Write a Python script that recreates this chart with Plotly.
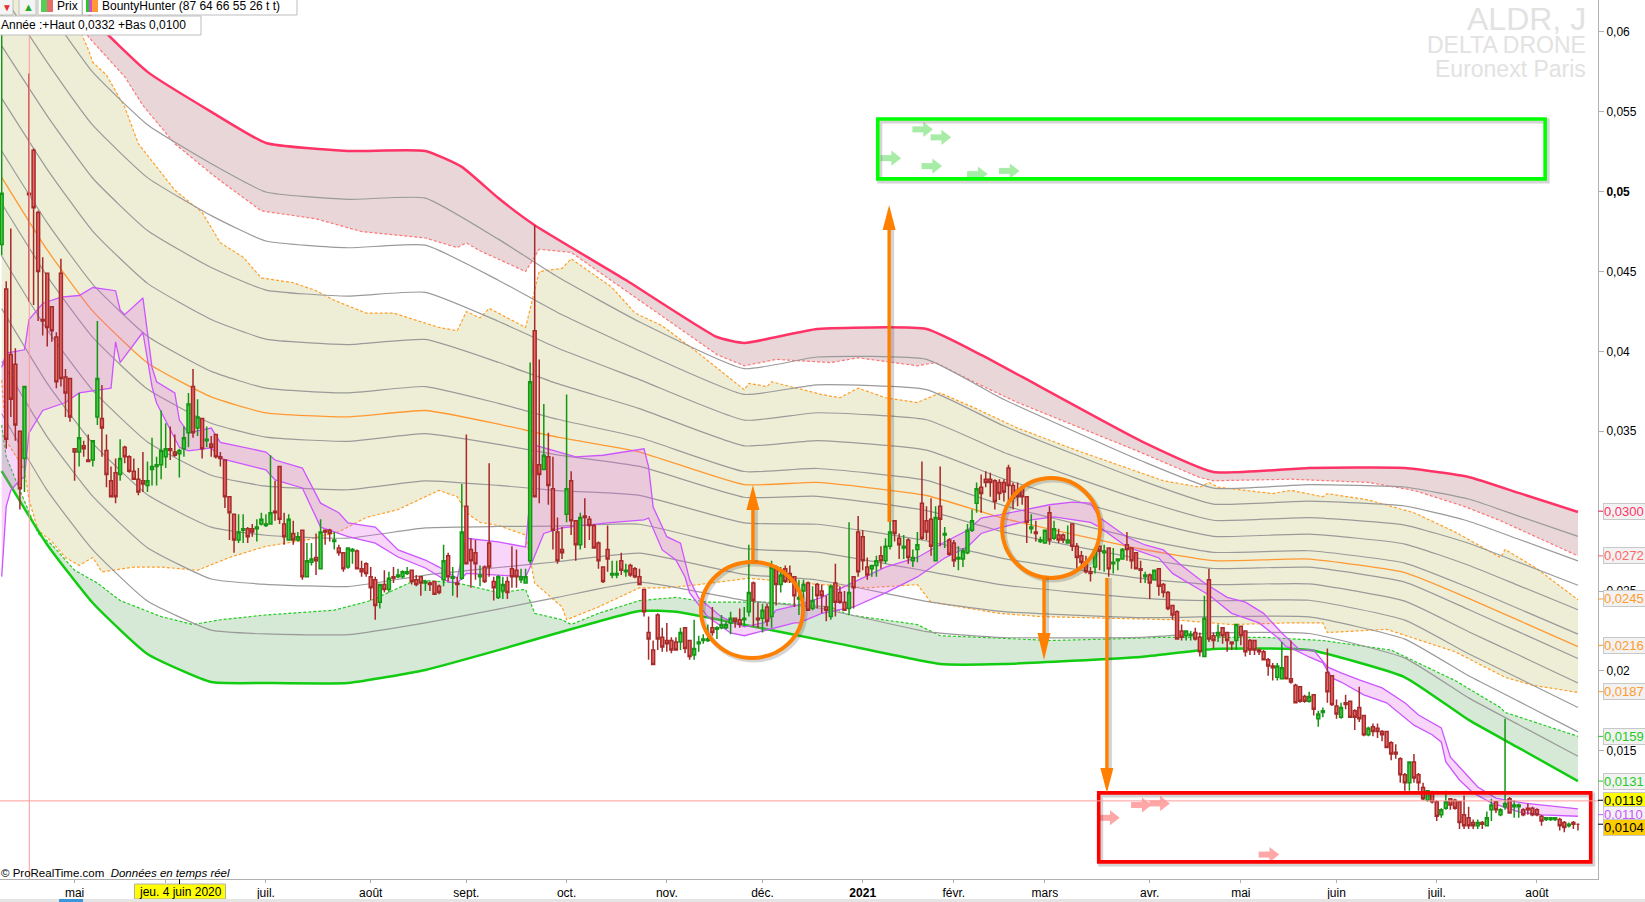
import plotly.graph_objects as go

SCALE = 1e-4  # all price lists below are in units of 0.0001

highs = [640,444,477,402,350,378,574,527,488,459,
449,428,412,458,389,383,339,374,344,348,
344,419,379,348,328,333,345,341,335,333,
327,337,331,346,334,363,355,353,348,339,
353,374,389,370,358,353,347,348,337,332,
309,298,298,298,290,292,295,299,298,335,
319,328,299,298,294,287,288,280,280,286,
295,288,289,287,279,274,277,277,276,269,
268,265,259,254,263,262,265,264,263,265,
263,260,259,257,256,256,254,279,274,265,
259,317,348,283,282,266,266,330,259,260,
259,259,278,276,264,264,393,479,395,367,
349,334,296,290,373,325,294,299,308,297,
292,281,265,291,269,269,274,267,267,265,
264,251,234,219,236,227,230,221,221,227,
227,219,232,222,223,229,240,228,235,231,
237,233,239,240,279,256,243,242,242,269,
266,265,266,266,259,257,257,256,253,255,
254,247,254,267,253,250,293,259,297,288,
271,266,272,278,283,317,294,286,285,283,
276,287,331,303,308,303,328,290,283,282,
278,277,292,301,318,323,325,324,320,320,
320,329,318,318,316,309,298,294,284,288,
303,294,289,286,291,292,280,275,272,265,
277,278,279,277,277,270,277,287,277,274,
269,262,261,263,264,255,250,241,238,229,
225,225,227,224,247,264,224,229,227,224,
218,229,228,225,220,219,214,213,208,205,
205,218,209,219,192,190,185,187,185,175,
177,214,197,182,180,185,181,176,190,172,
165,167,167,163,162,156,154,146,136,143,
148,136,130,125,125,119,114,125,120,120,
118,122,115,107,107,106,112,120,118,114,
170,121,119,117,114,117,115,114,110,108,
108,108,108,106,105,106,104]

opens = [467,439,398,392,350,333,499,526,487,420,
449,428,409,449,384,383,339,337,341,332,
332,359,358,338,319,324,323,340,334,325,
320,319,316,326,328,329,334,339,337,336,
339,349,378,352,358,344,342,348,334,332,
309,298,282,288,289,289,289,292,291,292,
300,328,292,282,286,282,288,259,268,271,
264,288,288,281,277,274,265,275,275,264,
267,259,257,243,254,251,259,259,259,261,
263,257,259,255,255,256,253,257,272,258,
255,258,303,276,274,259,265,280,256,246,
250,256,264,263,257,255,269,413,329,326,
334,314,287,276,298,319,294,279,297,295,
291,280,265,276,260,260,269,262,266,264,
259,251,224,213,235,221,219,219,218,218,
227,219,210,217,219,219,227,226,227,227,
230,233,232,232,237,255,233,233,240,234,
265,254,264,261,259,245,250,255,239,254,
250,240,234,255,249,243,239,259,287,284,
265,264,266,272,269,278,294,283,277,282,
269,276,305,294,295,269,303,285,282,280,
270,270,274,288,305,315,320,320,319,318,
318,327,316,313,315,309,289,287,281,280,
299,283,285,285,280,292,278,272,268,262,
265,278,274,277,267,269,270,279,277,274,
264,259,260,257,264,254,249,241,237,225,
222,222,224,221,209,257,222,222,227,224,
218,219,228,225,219,219,213,212,207,203,
196,195,209,195,191,190,184,181,185,170,
174,199,197,178,171,180,181,175,177,172,
160,165,164,162,162,155,149,145,135,130,
143,135,127,119,124,118,110,114,120,119,
118,110,108,105,103,105,103,113,118,110,
115,120,115,115,113,114,114,113,109,107,
107,107,107,105,103,105,104]

closes = [499,345,370,354,314,378,498,490,450,419,
415,413,381,383,374,359,337,346,339,331,
344,383,352,323,309,309,333,334,325,320,
312,317,319,328,329,338,339,338,335,338,
346,367,349,359,339,345,340,334,333,309,
299,282,287,289,284,287,290,295,292,299,
299,295,284,295,282,284,259,269,270,269,
287,287,286,282,274,264,277,276,264,262,
261,252,241,254,251,258,258,260,262,262,
256,254,255,256,254,248,249,269,259,259,
254,287,267,269,267,260,256,265,252,259,
254,249,259,259,259,259,381,309,323,335,
316,288,269,274,314,294,279,296,296,291,
277,269,256,270,261,261,263,263,260,259,
254,237,220,204,220,215,217,213,213,224,
214,209,214,218,220,220,224,227,229,229,
233,231,229,233,249,244,232,238,231,265,
254,260,256,257,247,246,254,238,244,247,
247,238,253,243,243,238,249,252,262,269,
260,266,269,269,278,287,286,279,278,271,
271,279,283,287,278,296,295,286,273,269,
271,275,288,294,314,311,318,318,306,311,
312,316,308,309,309,293,290,286,282,288,
282,289,282,282,282,278,271,268,262,261,
276,275,275,264,268,270,276,276,269,264,
263,260,255,263,253,249,239,235,220,221,
225,223,220,212,233,220,219,224,222,219,
217,229,222,212,213,213,212,207,203,202,
203,202,195,193,180,181,181,184,176,173,
175,187,179,173,177,179,171,171,170,160,
164,162,162,160,152,148,148,135,130,143,
133,130,120,125,118,109,113,118,116,114,
105,103,103,103,105,104,108,116,113,113,
117,111,116,116,110,113,110,110,106,108,
108,108,103,102,104,104,104]

lows = [460,339,359,344,301,312,431,429,419,410,
403,406,377,378,359,356,319,328,334,331,
328,354,334,315,309,305,319,330,324,320,
310,312,312,316,316,320,327,332,334,321,
334,340,346,347,333,340,334,333,328,302,
282,274,280,280,280,284,281,291,290,292,
294,292,279,282,279,281,257,259,266,260,
264,279,281,276,272,262,264,267,264,259,
259,244,232,239,249,249,255,258,258,260,
254,253,247,250,250,248,248,253,256,247,
246,257,267,252,257,253,255,259,244,245,
245,245,252,252,255,255,267,309,305,326,
304,276,267,270,293,285,269,276,277,282,
277,264,255,262,258,258,260,259,259,258,
254,234,207,204,213,212,212,211,213,213,
211,207,207,212,217,218,222,220,226,226,
223,227,227,228,234,228,227,224,228,227,
241,249,255,255,240,235,241,238,238,239,
236,231,232,234,242,238,235,239,259,263,
257,259,259,264,267,276,281,270,270,267,
265,268,282,282,272,269,278,277,272,265,
263,265,273,287,299,299,315,309,301,307,
306,305,301,303,304,280,286,281,280,280,
279,282,280,280,280,275,263,266,261,256,
261,263,262,259,261,263,270,269,264,264,
255,255,245,257,247,246,238,232,220,219,
219,219,219,209,209,218,214,218,217,212,
213,213,216,209,210,210,210,207,197,194,
194,195,195,192,180,180,180,180,172,165,
171,180,178,170,170,176,171,163,168,159,
159,159,158,156,152,144,145,130,125,125,
130,125,119,118,117,106,108,113,113,113,
101,101,101,101,101,101,103,106,111,109,
113,111,108,108,109,110,109,109,103,106,
106,106,100,99,102,101,100]

# Upper and lower bands
red_x = [0,10,20,32,46,58,76,93,101,109,117,137,157,163,179,203,215,224,250,266,287,308,322,333,346]
red_v = [690,648,608,575,550,530.5,525.5,525.5,515.5,496,479,444.7,409,405.3,414,414,397.8,384,344,324.5,327,327,321.4,311.4,299.5]
green_x = [0,10,20,32,46,58,76,93,109,122,140,148,160,184,206,220,250,266,287,308,322,333,346]
green_v = [325,279,242.5,210.6,193,192.4,192.4,200.6,213,223.7,237.5,237,230.6,216.9,204.3,204.3,208.7,213.7,213,196,169.3,151.8,131]

dash_red_x = [0,17,19,27,31,38,47,57,69,79,93,100,102,105,115,118,125,137,147,157,163,170,182,188,201,205,214,223,249,263,266,283,300,310,321,329,346]
dash_red_v = [690,609,597,572,554,530,509,488,483,475,471,465,468,463,450,464,462,438,418,398,391,395,393,396,391,393,380,368,338,321,319,320,318,313,303,294,272]

orange_up_x = [0,10,16,19,20,23,27,30,38,44,48,53,57,64,69,73,80,86,96,100,102,105,107,115,118,123,125,134,139,145,152,163,164,168,169,180,184,188,194,201,206,214,223,236,255,263,265,267,279,283,290,291,300,310,319,329,330,337,346]
orange_up_v = [700,650,609,589,581,573,553,530,501,487,468,459,446,443,438,432,424,424,415,413,425,421,427,415,450,452,458,440,424,416,401,376,380,378,381,373,371,377,371,368,374,364,352,338,319,315,318,315,311,313,309,311,307,299,287,271,276,264,244.5]
orange_low_x = [0,1,5,6,8,11,14,17,20,22,29,35,43,50,58,67,74,80,87,96,100,102,105,109,115,116,117,123,124,131,140,146,153,164,175,190,201,204,219,228,246,257,270,282,290,291,304,319,330,336,346]
orange_low_v = [382,344,326,307,288,281,271,266,271,262,265,265,263,271,278,282,287,296,301,313,309,299,293,291,285,271,255,240,232,240,252,252,254,258,255,252,254,243,236,234,233,232,229,230,230,224,226,212,196,191,186.5]
dash_green_x = [0,1,4,8,11,16,21,26,35,42,48,58,73,81,91,100,109,115,117,123,125,131,140,148,155,168,182,186,201,206,219,230,244,255,277,290,305,319,329,330,346]
dash_green_v = [354,334,313,286,279,263,255,244,234,229,232,235,238,244,257,255,249,251,236,232,229,236,244,246,243,243,240,235,229,222,220.5,219,220,221,221,219,213,194,177,174,159]

# Grey envelope levels and orange mid-line, sampled on the same bars
level_x = [0,10,20,32,46,58,76,93,109,122,140,163,179,203,220,250,266,287,308,322,333,346]
grey_1 = [657,614.5,574.8,541.9,517.5,499.8,495.2,496,470.3,446.7,418.5,389.2,396.5,395,369.9,331.7,314.4,316.6,315.1,307.6,296.9,284.2]
grey_2 = [624.2,581,541.6,508.8,485,469.1,464.9,466.5,444.6,424.4,400.4,373.1,379.1,376.1,353.3,319.4,304.4,306.3,303.2,293.7,282.4,268.9]
grey_3 = [591.3,547.5,508.4,475.7,452.5,438.4,434.6,437,418.9,402.1,382.3,357,361.6,357.2,336.7,307.1,294.3,295.9,291.3,279.9,267.9,253.6]
grey_4 = [558.4,514,475.2,442.6,420,407.7,404.3,407.5,393.2,379.8,364.2,340.9,344.2,338.2,320.1,294.8,284.2,285.6,279.4,266.1,253.4,238.3]
grey_5 = [525.5,480.5,442,409.5,387.5,377,374,378,367.5,357.5,346.1,324.8,326.7,319.3,303.5,282.5,274.2,275.2,267.5,252.2,238.9,223]
orange_mid = [509,463.5,425.2,392.8,371.5,361.5,359,363,354.5,346.3,337,316.6,318,309.8,295.4,276.3,269,270,261.5,245.4,231.6,215.2]
grey_6 = [492.6,447,408.8,376.4,355,346.3,343.7,348.5,341.8,335.2,328,308.7,309.3,300.3,286.9,270.2,264.1,264.9,255.6,238.4,224.4,207.7]
grey_7 = [459.7,413.5,375.6,343.3,322.5,315.6,313.4,319,316.1,312.9,309.9,292.6,291.8,281.4,270.3,257.9,254,254.5,243.7,224.5,209.9,192.4]
grey_8 = [426.8,380,342.4,310.2,290,284.9,283.1,289.5,290.4,290.6,291.8,276.5,274.4,262.5,253.7,245.6,243.9,244.2,231.8,210.7,195.4,177.1]
grey_9 = [393.9,346.5,309.2,277.1,257.5,254.2,252.8,260,264.7,268.3,273.7,260.4,256.9,243.5,237.1,233.3,233.9,233.8,219.9,196.9,180.9,161.8]
grey_10 = [361,313,275.7,243.7,225.5,223.1,222.7,230.1,238.7,246,255.6,244.1,239.5,224.6,220.9,221,223.8,223.4,208,183.1,166.3,146.5]

# Purple short-term band
purple_up_x = [0,1,5,6,9,13,17,20,25,26,27,31,33,34,38,39,41,46,48,58,60,66,70,74,76,82,87,93,96,100,102,109,115,117,126,132,141,142,143,146,149,151,153,158,163,168,170,175,180,187,194,201,207,212,215,219,230,235,239,241,247,251,255,259,264,269,273,277,281,285,288,291,294,298,303,308,311,316,318,321,324,328,334,346]
purple_up_v = [390,399,401,420,430,434,435,440,438,426,423,433.5,390,381,374,357,349,352,343,337,332,327,305,299,292.6,290,275.7,269.4,265,258,283,280.7,277.6,341.4,334,335,339,327.7,302.6,284,280,257,245.6,233.8,227.5,230.6,238,241.3,246,255.7,265,271,280.7,288,295.7,297.6,304,305.7,305,296,283.8,278.8,275.7,266,255,246,243,236,223.7,213,213,202.5,198.7,194.3,189.3,180,172.4,164.3,146,136.7,127.3,120.4,117.3,113.6]
purple_low_x = [0,1,2,4,5,6,9,14,17,24,25,26,31,33,34,39,41,46,48,58,60,66,70,76,82,87,93,98,100,102,109,115,116,119,123,128,133,141,142,145,148,150,151,155,160,163,168,174,175,180,187,194,201,207,212,215,219,226,231,239,241,247,254,257,262,265,270,276,280,282,283,287,290,292,294,299,304,308,310,314,316,317,320,323,327,333,338,346]
purple_low_v = [259,303,313,319.5,321.4,349,363,368,374,377,406,393,412,378,367.7,340,337.7,339.6,333,325.8,319.5,314.5,290,284,280,271.3,264.4,255.7,255,261,260,258.8,265,286,289.5,291,292.6,294.5,295.7,275.7,269.4,258.8,248.8,233.8,223.7,222,225.6,230,230,236,240,248.8,258.8,270.7,277.6,286,289.5,294.5,296.4,293,290,277.6,270.7,261,252.5,247.5,236,230,221,215,214.4,208.7,205,195.6,193,185,180,171,166,160,155.5,143,131.7,123.6,117.3,111.7,109.8,109]

# Signal arrows (bar, price)
buy_x = [202,206,195,204,214,221]
buy_v = [539,534,521,516,511,513]
sell_x = [243,250,254,278]
sell_v = [108,116,117,85]

# Axis text
month_bars = [16,36,58,81,102,124,146,167,189,209,229,252,272,293,315,337]
month_labels = ["mai","","juil.","août","sept.","oct.","nov.","déc.","<b>2021</b>","févr.","mars","avr.","mai","juin","juil.","août"]
price_ticks = [0.06,0.055,0.05,0.045,0.04,0.035,0.03,0.025,0.02,0.015]
price_labels = ["0,06","0,055","<b>0,05</b>","0,045","0,04","0,035","0,03","0,025","0,02","0,015"]
tag_values = [0.0300,0.0272,0.0245,0.0216,0.0187,0.0159,0.0131,0.0119,0.0110,0.0104]
tag_texts = ["0,0300","0,0272","0,0245","0,0216","0,0187","0,0159","0,0131","0,0119","0,0110","0,0104"]
tag_colors = ["#ff3366","#ff6666","#ff9a2e","#ff9a2e","#ff9a2e","#22cc22","#22cc22","#000000","#cc55ff","#000000"]
tag_fills = ["#f2f2f2","#f2f2f2","#f2f2f2","#f2f2f2","#f2f2f2","#f2f2f2","#f2f2f2","#ffff00","#f2f2f2","#ffcc00"]
tag_shift = [0,0,0,0,0,0,0,0,0,-3]

FONT = "Liberation Sans, Arial, sans-serif"
PLOT_W, PLOT_H = 1598, 879
BARS = list(range(len(highs)))
X_RANGE = [-0.37, 350.4]
Y_RANGE = [0.00697, 0.062]


def sc(vals):
    return [v * SCALE for v in vals]


def line(x, y, color, width=1.2, dash=None, smooth=False, **kw):
    ln = dict(color=color, width=width, dash=dash)
    if smooth:
        ln.update(shape="spline", smoothing=0.45)
    return go.Scatter(x=x, y=sc(y), mode="lines", hoverinfo="skip", showlegend=False, line=ln, **kw)


DASH = "3px,2px"
fig = go.Figure()
fig.add_trace(line(orange_low_x, orange_low_v, "#ff9f2a", 1.2, DASH))
fig.add_trace(line(orange_up_x, orange_up_v, "#ff9f2a", 1.2, DASH, fill="tonexty", fillcolor="#eeeed6"))
fig.add_trace(line(green_x, green_v, "#11cc11", 2.5, smooth=True))
fig.add_trace(line(dash_green_x, dash_green_v, "#22cc22", 1.2, DASH, fill="tonexty", fillcolor="#d6e8d6"))
fig.add_trace(line(dash_red_x, dash_red_v, "#ff7777", 1.2, DASH))
fig.add_trace(line(red_x, red_v, "#ff3366", 2.5, smooth=True, fill="tonexty", fillcolor="#e8d6d9"))
for g in (grey_1, grey_2, grey_3, grey_4, grey_5, grey_6, grey_7, grey_8, grey_9, grey_10):
    fig.add_trace(line(level_x, g, "#9a9a9a", 1.2, smooth=True))
fig.add_trace(line(level_x, orange_mid, "#ff9933", 1.3, smooth=True))
fig.add_trace(line(purple_low_x, purple_low_v, "#cc55ff", 1.3))
fig.add_trace(line(purple_up_x, purple_up_v, "#cc55ff", 1.3, fill="tonexty", fillcolor="rgba(225,90,235,0.25)"))

# Candles sit on an overlaid axis pair so that they paint above the filled bands
fig.add_trace(go.Candlestick(
    x=BARS, open=sc(opens), high=sc(highs), low=sc(lows), close=sc(closes), xaxis="x2", yaxis="y2",
    increasing=dict(line=dict(color="#149614", width=1.5), fillcolor="#44cc44"),
    decreasing=dict(line=dict(color="#a52a2a", width=1.5), fillcolor="#e86a6a"),
    whiskerwidth=0, hoverinfo="skip", showlegend=False))


def signal_marks(xs, vs, color):
    # Each signal is a short thick stem with a triangular head, centred on its bar and price
    stem = go.Scatter(x=[x - 0.55 for x in xs], y=sc(vs), mode="markers", hoverinfo="skip", showlegend=False,
                      xaxis="x2", yaxis="y2", marker=dict(symbol="line-ew", size=10, line=dict(color=color, width=6)))
    head = go.Scatter(x=[x + 1.0 for x in xs], y=sc(vs), mode="markers", hoverinfo="skip", showlegend=False,
                      xaxis="x2", yaxis="y2", marker=dict(symbol="triangle-right", size=13, color=color, line=dict(width=0)))
    return [stem, head]


fig.add_traces(signal_marks(buy_x, buy_v, "#a6eca6"))
fig.add_traces(signal_marks(sell_x, sell_v, "#ffa6a6"))

shapes = []
annots = []
SHADOW = "rgba(60,60,60,0.22)"
DX, DY = 0.44, 1.25  # about two pixels, in bars and price units


def rect(x0, x1, y0, y1, color):
    shapes.append(dict(type="rect", xref="x", yref="y", x0=x0 + DX, x1=x1 + DX, y0=(y0 - DY) * SCALE, y1=(y1 - DY) * SCALE,
                       line=dict(color=SHADOW, width=5), layer="above"))
    shapes.append(dict(type="rect", xref="x", yref="y", x0=x0, x1=x1, y0=y0 * SCALE, y1=y1 * SCALE,
                       line=dict(color=color, width=3.6), layer="above"))


def circle(x0, x1, y0, y1):
    shapes.append(dict(type="circle", xref="x", yref="y", x0=x0 + DX, x1=x1 + DX, y0=(y0 - DY) * SCALE, y1=(y1 - DY) * SCALE,
                       line=dict(color=SHADOW, width=5), layer="above"))
    shapes.append(dict(type="circle", xref="x", yref="y", x0=x0, x1=x1, y0=y0 * SCALE, y1=y1 * SCALE,
                       line=dict(color="#ff8000", width=4), layer="above"))


def arrow(x, start, base, tip):
    shapes.append(dict(type="line", xref="x", yref="y", x0=x + DX, x1=x + DX, y0=start * SCALE, y1=base * SCALE,
                       line=dict(color=SHADOW, width=6), layer="above"))
    shapes.append(dict(type="line", xref="x", yref="y", x0=x, x1=x, y0=start * SCALE, y1=base * SCALE,
                       line=dict(color="#ff8000", width=3.4), layer="above"))
    hw = 1.43
    shapes.append(dict(type="path", xref="x", yref="y", layer="above", fillcolor="#ff8000", line=dict(width=0),
                       path=f"M {x-hw} {base*SCALE} L {x} {tip*SCALE} L {x+hw} {base*SCALE} Z"))


rect(192.3, 338.8, 545.5, 508, "#00ff00")
rect(240.8, 348.8, 123.6, 80.4, "#ff0000")
circle(153.5, 175.9, 268.2, 208.1)
circle(219.6, 241.1, 320.8, 258.2)
arrow(164.9, 268.2, 300.7, 316.4)
arrow(194.8, 293.2, 476, 491.7)
arrow(228.8, 258.2, 223.7, 206.8)
arrow(242.6, 258.2, 139.2, 123.6)


def px(x):
    return x / PLOT_W


def py(y):
    return 1 - y / PLOT_H


def box(x0, x1, y0, y1, fill="#ffffff", border="#bdbdbd"):
    shapes.append(dict(type="rect", xref="paper", yref="paper", x0=px(x0), x1=px(x1), y0=py(y1), y1=py(y0),
                       fillcolor=fill, line=dict(color=border, width=1 if border else 0), layer="above"))


def label(x, y, text, size=12, color="#000000", anchor="left", **kw):
    annots.append(dict(xref="paper", yref="paper", x=px(x), y=py(y), text=text, showarrow=False, xanchor=anchor,
                       yanchor="middle", font=dict(family=FONT, size=size, color=color), borderpad=0, **kw))


# Crosshair
shapes.append(dict(type="line", xref="paper", yref="paper", x0=px(29.3), x1=px(29.3), y0=0, y1=py(17),
                   line=dict(color="#ff9a9a", width=1), layer="above"))
shapes.append(dict(type="line", xref="paper", yref="y", x0=0, x1=1, y0=0.01186, y1=0.01186,
                   line=dict(color="#ff9a9a", width=1), layer="above"))

# Toolbar
box(-1, 13, -1, 15, "#f4f4f4")
box(19, 36, -1, 15, "#f4f4f4")
box(38, 297, -1, 15, "#ffffff")
box(82, 82.5, -1, 15, "#bdbdbd")
box(-1, 201, 16, 35)
box(41, 47, 0, 12, "#55cc55", None)
box(47, 53, 0, 12, "#e86a6a", None)
box(86, 89, 0, 12, "#22cc22", None)
box(89, 92, 0, 12, "#dd44dd", None)
box(92, 98, 0, 12, "#ff9933", None)
label(1, 7, "▼", 10, "#e03030")
label(22, 7, "▲", 11, "#22aa22")
label(56, 6.5, "Prix", 12)
label(101, 6.5, "BountyHunter (87 64 66 55 26 t t)", 12)
label(0, 25.5, "Année :+Haut 0,0332 +Bas 0,0100", 12)

# Watermark
label(1587, 19, "ALDR, J", 32, "#e2e2e2", "right")
label(1587, 45.5, "DELTA DRONE", 23, "#e2e2e2", "right")
label(1587, 69, "Euronext Paris", 23, "#e2e2e2", "right")

# Footer
label(0, 873, "© ProRealTime.com  <i>Données en temps réel</i>", 11.5)
box(134.5, 225.5, 884, 899, "#ffff00", "#b0b0b0")
label(180, 892, "jeu. 4 juin 2020", 12, anchor="center")
shapes.append(dict(type="line", xref="paper", yref="paper", x0=px(179.5), x1=px(179.5), y0=py(879), y1=py(884),
                   line=dict(color="#000000", width=1), layer="above"))
box(-1, 1646, 899, 903, "#e4e4e4", None)
box(59, 83, 899, 903, "#3a96dd", None)

# Last-value tags on the price axis
for v, t, c, f, s in zip(tag_values, tag_texts, tag_colors, tag_fills, tag_shift):
    annots.append(dict(xref="paper", yref="y", x=1, y=v, xshift=5, yshift=s, xanchor="left", yanchor="middle",
                       text=t, showarrow=False, bgcolor=f, bordercolor="#c8c8c8", borderwidth=1, borderpad=0,
                       width=42, height=15, align="left", font=dict(family=FONT, size=13, color=c)))
    shapes.append(dict(type="line", xref="paper", yref="y", x0=1, x1=1 + 5 / PLOT_W, y0=v, y1=v,
                       line=dict(color=c, width=1), layer="above"))

fig.update_layout(
    width=1645, height=902, margin=dict(l=0, r=47, t=0, b=23), boxgap=0.08,
    paper_bgcolor="#ffffff", plot_bgcolor="rgba(0,0,0,0)", showlegend=False, hovermode=False,
    shapes=shapes, annotations=annots,
    xaxis=dict(range=X_RANGE, rangeslider=dict(visible=False), showgrid=False, zeroline=False,
               tickmode="array", tickvals=month_bars, ticktext=month_labels, ticks="outside", ticklen=3,
               tickcolor="#b0b0b0", showline=True, linecolor="#b0b0b0", linewidth=1,
               tickfont=dict(family=FONT, size=12, color="#000000")),
    yaxis=dict(range=Y_RANGE, side="right", showgrid=False, zeroline=False,
               tickmode="array", tickvals=price_ticks, ticktext=price_labels, ticks="outside", ticklen=5,
               tickcolor="#b0b0b0", showline=True, linecolor="#b0b0b0", linewidth=1,
               tickfont=dict(family=FONT, size=12, color="#000000")),
    xaxis2=dict(range=X_RANGE, overlaying="x", visible=False, rangeslider=dict(visible=False)),
    yaxis2=dict(range=Y_RANGE, overlaying="y", side="right", visible=False),
)

fig.write_html("out.html", config=dict(displayModeBar=False),
               post_script="document.body.style.margin='0';document.body.style.overflow='hidden';")
